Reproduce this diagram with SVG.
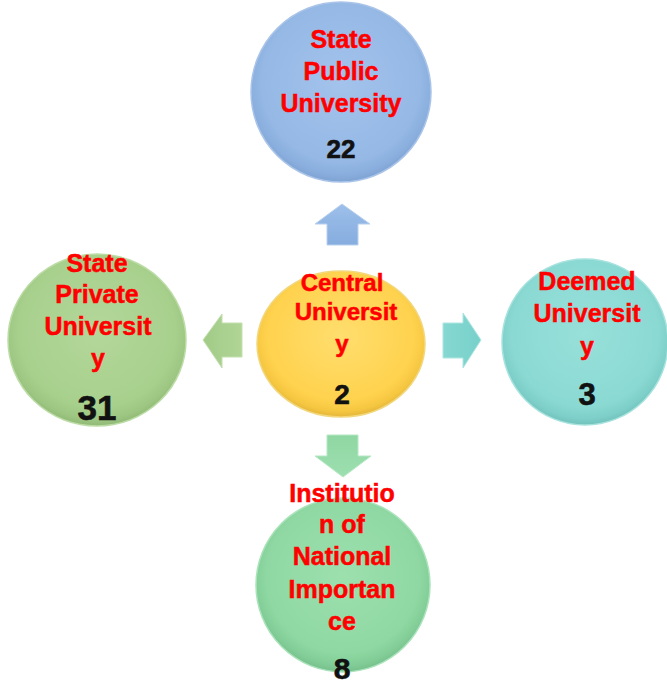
<svg xmlns="http://www.w3.org/2000/svg" width="667" height="687" viewBox="0 0 667 687">
  <defs>
    <radialGradient id="gBlue" cx="50%" cy="45%" r="55%">
      <stop offset="0" stop-color="#a3c3ec"/>
      <stop offset="0.8" stop-color="#95b8e5"/>
      <stop offset="0.93" stop-color="#89aedd"/>
      <stop offset="1" stop-color="#7ea3d2"/>
    </radialGradient>
    <radialGradient id="gLeaf" cx="50%" cy="45%" r="55%">
      <stop offset="0" stop-color="#b3d79a"/>
      <stop offset="0.8" stop-color="#a8d08d"/>
      <stop offset="0.93" stop-color="#9cc681"/>
      <stop offset="1" stop-color="#90b976"/>
    </radialGradient>
    <radialGradient id="gGold" cx="50%" cy="45%" r="55%">
      <stop offset="0" stop-color="#ffde6e"/>
      <stop offset="0.8" stop-color="#ffd24e"/>
      <stop offset="0.93" stop-color="#f5c640"/>
      <stop offset="1" stop-color="#e4b63a"/>
    </radialGradient>
    <radialGradient id="gTeal" cx="50%" cy="45%" r="55%">
      <stop offset="0" stop-color="#98e0da"/>
      <stop offset="0.8" stop-color="#8bd9d3"/>
      <stop offset="0.93" stop-color="#7ecfc9"/>
      <stop offset="1" stop-color="#72c2bc"/>
    </radialGradient>
    <radialGradient id="gMint" cx="50%" cy="45%" r="55%">
      <stop offset="0" stop-color="#9ce0ae"/>
      <stop offset="0.8" stop-color="#8fd8a3"/>
      <stop offset="0.93" stop-color="#82cd97"/>
      <stop offset="1" stop-color="#76bf8b"/>
    </radialGradient>
    <linearGradient id="aBlue" x1="0" y1="0" x2="0" y2="1">
      <stop offset="0" stop-color="#9dbfea"/>
      <stop offset="1" stop-color="#86addf"/>
    </linearGradient>
    <linearGradient id="aLeaf" x1="0" y1="0" x2="1" y2="0">
      <stop offset="0" stop-color="#a2cb87"/>
      <stop offset="1" stop-color="#b0d596"/>
    </linearGradient>
    <linearGradient id="aTeal" x1="0" y1="0" x2="1" y2="0">
      <stop offset="0" stop-color="#86d8d2"/>
      <stop offset="1" stop-color="#78d0ca"/>
    </linearGradient>
    <linearGradient id="aMint" x1="0" y1="0" x2="0" y2="1">
      <stop offset="0" stop-color="#8fd7a2"/>
      <stop offset="1" stop-color="#9ddfb0"/>
    </linearGradient>
  </defs>
  <style>
    .lbl { font-family: "Liberation Sans", Arial, sans-serif; font-weight: bold; fill: #ff0000; stroke: #ff0000; stroke-width: 0.5; text-anchor: middle; }
    .num { font-family: "Liberation Sans", Arial, sans-serif; font-weight: bold; fill: #111111; stroke: #111111; stroke-width: 0.6; text-anchor: middle; }
    .disc { stroke-width: 1.5; }
  </style>

  <rect width="667" height="687" fill="#ffffff"/>

  <!-- arrows from the centre outwards -->
  <g id="connectors">
    <polygon points="342,204 370,224 358,224 358,245 327,245 327,224 315,224" fill="url(#aBlue)" stroke="#b9d0ee" stroke-width="1"/>
    <polygon points="203,340 222,314 222,323 242,323 242,357 222,357 222,368" fill="url(#aLeaf)" stroke="#c4e0b0" stroke-width="1"/>
    <polygon points="481,340 463,313 463,323 443,323 443,358 463,358 463,368" fill="url(#aTeal)" stroke="#aee6e2" stroke-width="1"/>
    <polygon points="343,477 371,456 358,456 358,435 327,435 327,456 315,456" fill="url(#aMint)" stroke="#b6e8c4" stroke-width="1"/>
  </g>

  <g id="state-public">
    <circle class="disc" cx="341" cy="92" r="90" fill="url(#gBlue)" stroke="#a9c4e8"/>
    <text class="lbl" font-size="25" x="341" y="48">State</text>
    <text class="lbl" font-size="25" x="341" y="80">Public</text>
    <text class="lbl" font-size="25" x="341" y="112">University</text>
    <text class="num" font-size="26" x="341" y="158">22</text>
  </g>

  <g id="state-private">
    <ellipse class="disc" cx="97" cy="340" rx="89" ry="86" fill="url(#gLeaf)" stroke="#bcdca6"/>
    <text class="lbl" font-size="25" x="97" y="272">State</text>
    <text class="lbl" font-size="25" x="97" y="303">Private</text>
    <text class="lbl" font-size="25" x="98" y="335">Universit</text>
    <text class="lbl" font-size="25" x="98" y="367">y</text>
    <text class="num" font-size="35" x="97" y="420">31</text>
  </g>

  <g id="central">
    <ellipse class="disc" cx="341" cy="344" rx="84" ry="73" fill="url(#gGold)" stroke="#f2d77c"/>
    <text class="lbl" font-size="24" x="342" y="291">Central</text>
    <text class="lbl" font-size="24" x="346" y="320">Universit</text>
    <text class="lbl" font-size="24" x="342" y="352">y</text>
    <text class="num" font-size="28" x="342" y="404">2</text>
  </g>

  <g id="deemed">
    <circle class="disc" cx="585" cy="342" r="83" fill="url(#gTeal)" stroke="#a6e2de"/>
    <text class="lbl" font-size="25" x="587" y="290">Deemed</text>
    <text class="lbl" font-size="25" x="587" y="322">Universit</text>
    <text class="lbl" font-size="25" x="587" y="355">y</text>
    <text class="num" font-size="31" x="587" y="405">3</text>
  </g>

  <g id="national-importance">
    <circle class="disc" cx="343" cy="585" r="87" fill="url(#gMint)" stroke="#a9e3ba"/>
    <text class="lbl" font-size="25" x="342" y="502">Institutio</text>
    <text class="lbl" font-size="25" x="342" y="533">n of</text>
    <text class="lbl" font-size="25" x="342" y="565">National</text>
    <text class="lbl" font-size="25" x="342" y="598">Importan</text>
    <text class="lbl" font-size="25" x="342" y="630">ce</text>
    <text class="num" font-size="30" x="342" y="679">8</text>
  </g>
</svg>
